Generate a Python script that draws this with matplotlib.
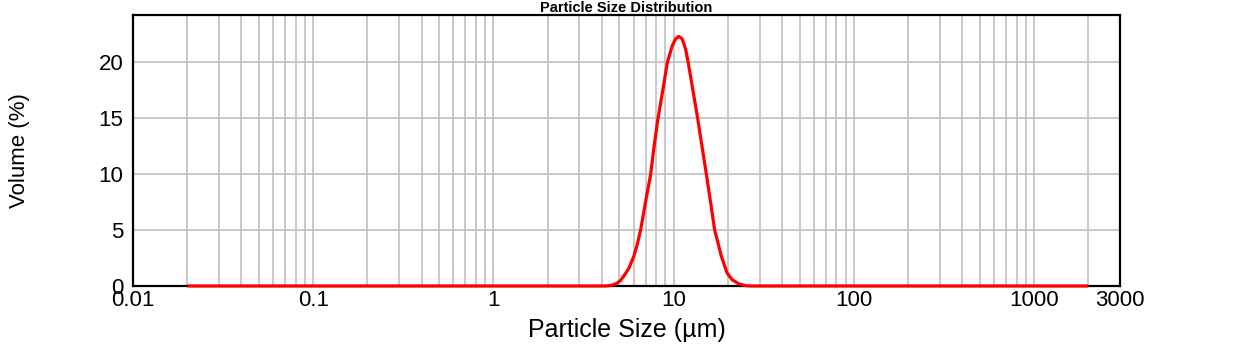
import numpy as np
import matplotlib.pyplot as plt
from matplotlib.ticker import FixedLocator, NullFormatter, NullLocator

# data
size_um = [0.02, 4.2, 4.5, 4.8, 5.08, 5.35, 5.65, 6.03, 6.3, 6.56, 7.0, 7.46,
           7.78, 8.19, 8.73, 9.23, 9.83, 10.25, 10.7, 11.17, 11.65, 12.05,
           12.8, 13.6, 14.4, 15.2, 16.0, 16.9, 17.6, 18.4, 19.8, 21.1, 23.0,
           25.0, 27.0, 2000]
volume = [0, 0, 0.05, 0.2, 0.5, 1.0, 1.6, 2.7, 3.8, 5.0, 7.6, 10.0,
          12.4, 15.0, 17.6, 20.0, 21.5, 22.1, 22.34, 22.1, 21.2, 20.0,
          17.5, 15.0, 12.4, 10.0, 7.6, 5.0, 3.9, 2.66, 1.17, 0.57, 0.19,
          0.03, 0, 0]
xticks = [0.01, 0.1, 1, 10, 100, 1000, 3000]
xticklabels = ['0.01', '0.1', '1', '10', '100', '1000', '3000']
yticks = [0, 5, 10, 15, 20]

plt.rcParams['font.family'] = ['Liberation Sans', 'DejaVu Sans']

fig = plt.figure(figsize=(12.51, 3.48), dpi=100)
ax = fig.add_axes([0.1063, 0.1782, 0.789, 0.7787])

# grid lines at every 1..9 x decade
grid_x = [m * 10.0 ** e for e in range(-2, 4) for m in range(1, 10)]
grid_x = [g for g in grid_x if 0.01 < g < 3000]
for g in grid_x:
    ax.axvline(g, color='#c0c0c0', lw=1.2, zorder=0)
for v in yticks[1:]:
    ax.axhline(v, color='#c0c0c0', lw=1.2, zorder=0)

ax.plot(size_um, volume, color='red', lw=2.3, zorder=3, clip_on=False,
        solid_joinstyle='round', solid_capstyle='butt')

ax.set_xscale('log')
ax.set_xlim(0.01, 3000)
ax.set_ylim(0, 24.25)
ax.xaxis.set_major_locator(FixedLocator(xticks))
ax.set_xticklabels(xticklabels)
ax.xaxis.set_minor_locator(NullLocator())
ax.xaxis.set_minor_formatter(NullFormatter())
ax.set_yticks(yticks)
ax.tick_params(axis='both', length=0, labelsize=16)
ax.tick_params(axis='x', pad=3)
ax.tick_params(axis='y', pad=7)

for s in ax.spines.values():
    s.set_color('black')
    s.set_linewidth(1.6)

ax.set_xlabel('Particle Size (µm)', fontsize=18, labelpad=5)
ax.set_ylabel('Volume (%)', fontsize=16, labelpad=49)
ax.set_title('Particle Size Distribution', fontsize=10.5, fontweight='bold', pad=1)

fig.savefig('out.png', dpi=100)
